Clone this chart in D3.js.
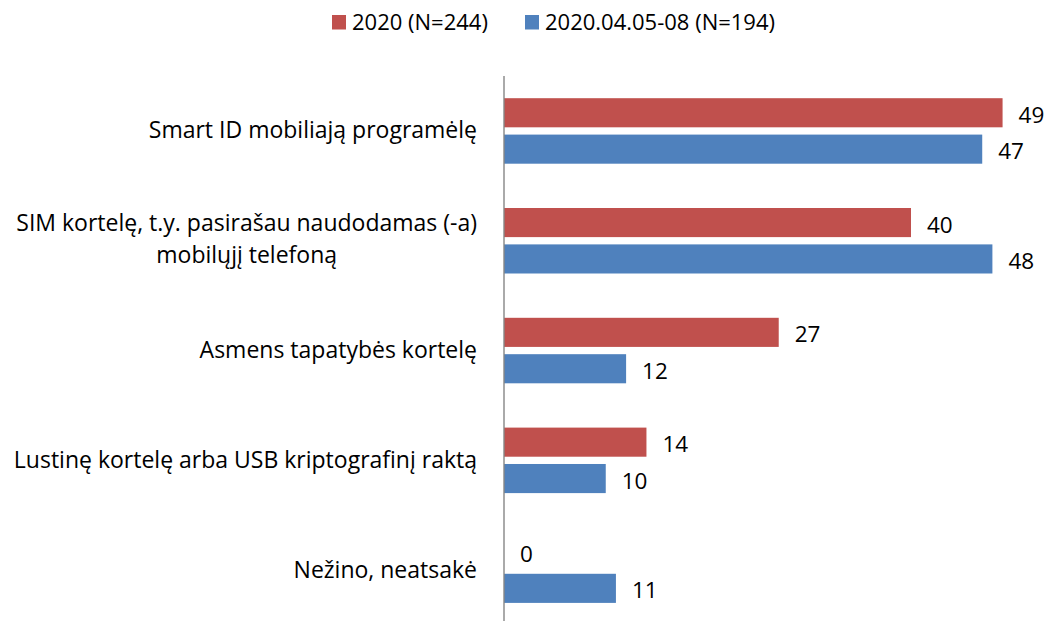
<!DOCTYPE html>
<html>
<head>
<meta charset="utf-8">
<title>Smart ID chart</title>
<script src="https://d3js.org/d3.v7.min.js"></script>
<style>
  body { margin: 0; background: #fff; }
  text { font-family: "Open Sans", "Noto Sans", sans-serif; fill: #000; }
</style>
</head>
<body>
<svg id="chart" width="1048" height="621"></svg>
<script>
// data
var categories = [
  ["Smart ID mobiliają programėlę"],
  ["SIM kortelę, t.y. pasirašau naudodamas (-a)", "mobilųjį telefoną"],
  ["Asmens tapatybės kortelę"],
  ["Lustinę kortelę arba USB kriptografinį raktą"],
  ["Nežino, neatsakė"]
];
var seriesNames = ["2020 (N=244)", "2020.04.05-08 (N=194)"];
var values2020 = [49, 40, 27, 14, 0];
var valuesApr = [47, 48, 12, 10, 11];
var colors = ["#C0504D", "#4F81BD"];

var svg = d3.select("#chart");
var keys = categories.map(function(c, i) { return "c" + i; });

var x = d3.scaleLinear().domain([0, 50]).range([504, 1012.75]);
var y = d3.scaleBand().domain(keys).range([76, 625]);
var inner = d3.scaleBand().domain([0, 1]).range([-32.7, 32.8]).paddingInner(0.2);

var rows = [];
keys.forEach(function(k, i) {
  rows.push({key: k, s: 0, v: values2020[i]});
  rows.push({key: k, s: 1, v: valuesApr[i]});
});
function mid(k) { return y(k) + y.bandwidth() / 2; }

// bars
svg.append("g").selectAll("rect")
  .data(rows)
  .enter()
  .append("rect")
    .attr("x", x(0))
    .attr("y", function(d) { return mid(d.key) + inner(d.s); })
    .attr("width", function(d) { return x(d.v) - x(0); })
    .attr("height", inner.bandwidth())
    .attr("fill", function(d) { return colors[d.s]; });

// value labels
svg.append("g").selectAll("text")
  .data(rows)
  .enter()
  .append("text")
    .attr("x", function(d) { return x(d.v) + 16; })
    .attr("y", function(d) { return mid(d.key) + inner(d.s) + inner.bandwidth() / 2 + 10; })
    .style("font-size", "22.5px")
    .text(function(d) { return d.v; });

// axis line
svg.append("line")
  .attr("x1", x(0)).attr("x2", x(0))
  .attr("y1", 76).attr("y2", 625)
  .attr("stroke", "#868686")
  .attr("stroke-width", 1.4);

// category labels
var lab = svg.append("g").selectAll("text")
  .data(categories)
  .enter()
  .append("text")
    .attr("text-anchor", "middle")
    .style("font-size", "23px");
lab.each(function(lines, i) {
  var t = d3.select(this);
  var y0 = mid(keys[i]) + 7.5 - (lines.length - 1) * 17;
  lines.forEach(function(l, j) {
    t.append("tspan").attr("y", y0 + j * 31.5).text(l);
  });
  // right align the block at x=477, centre the lines within it
  var w = d3.max(t.selectAll("tspan").nodes(), function(n) { return n.getComputedTextLength(); });
  t.selectAll("tspan").attr("x", 477 - w / 2);
});

// legend
var legX = [332, 525];
var leg = svg.append("g").selectAll("g")
  .data(seriesNames)
  .enter()
  .append("g")
    .attr("transform", function(d, i) { return "translate(" + legX[i] + ",15)"; });
leg.append("rect").attr("width", 14).attr("height", 14.5)
  .attr("fill", function(d, i) { return colors[i]; });
leg.append("text").attr("x", 20).attr("y", 15)
  .style("font-size", "22px")
  .text(function(d) { return d; });
</script>
</body>
</html>
